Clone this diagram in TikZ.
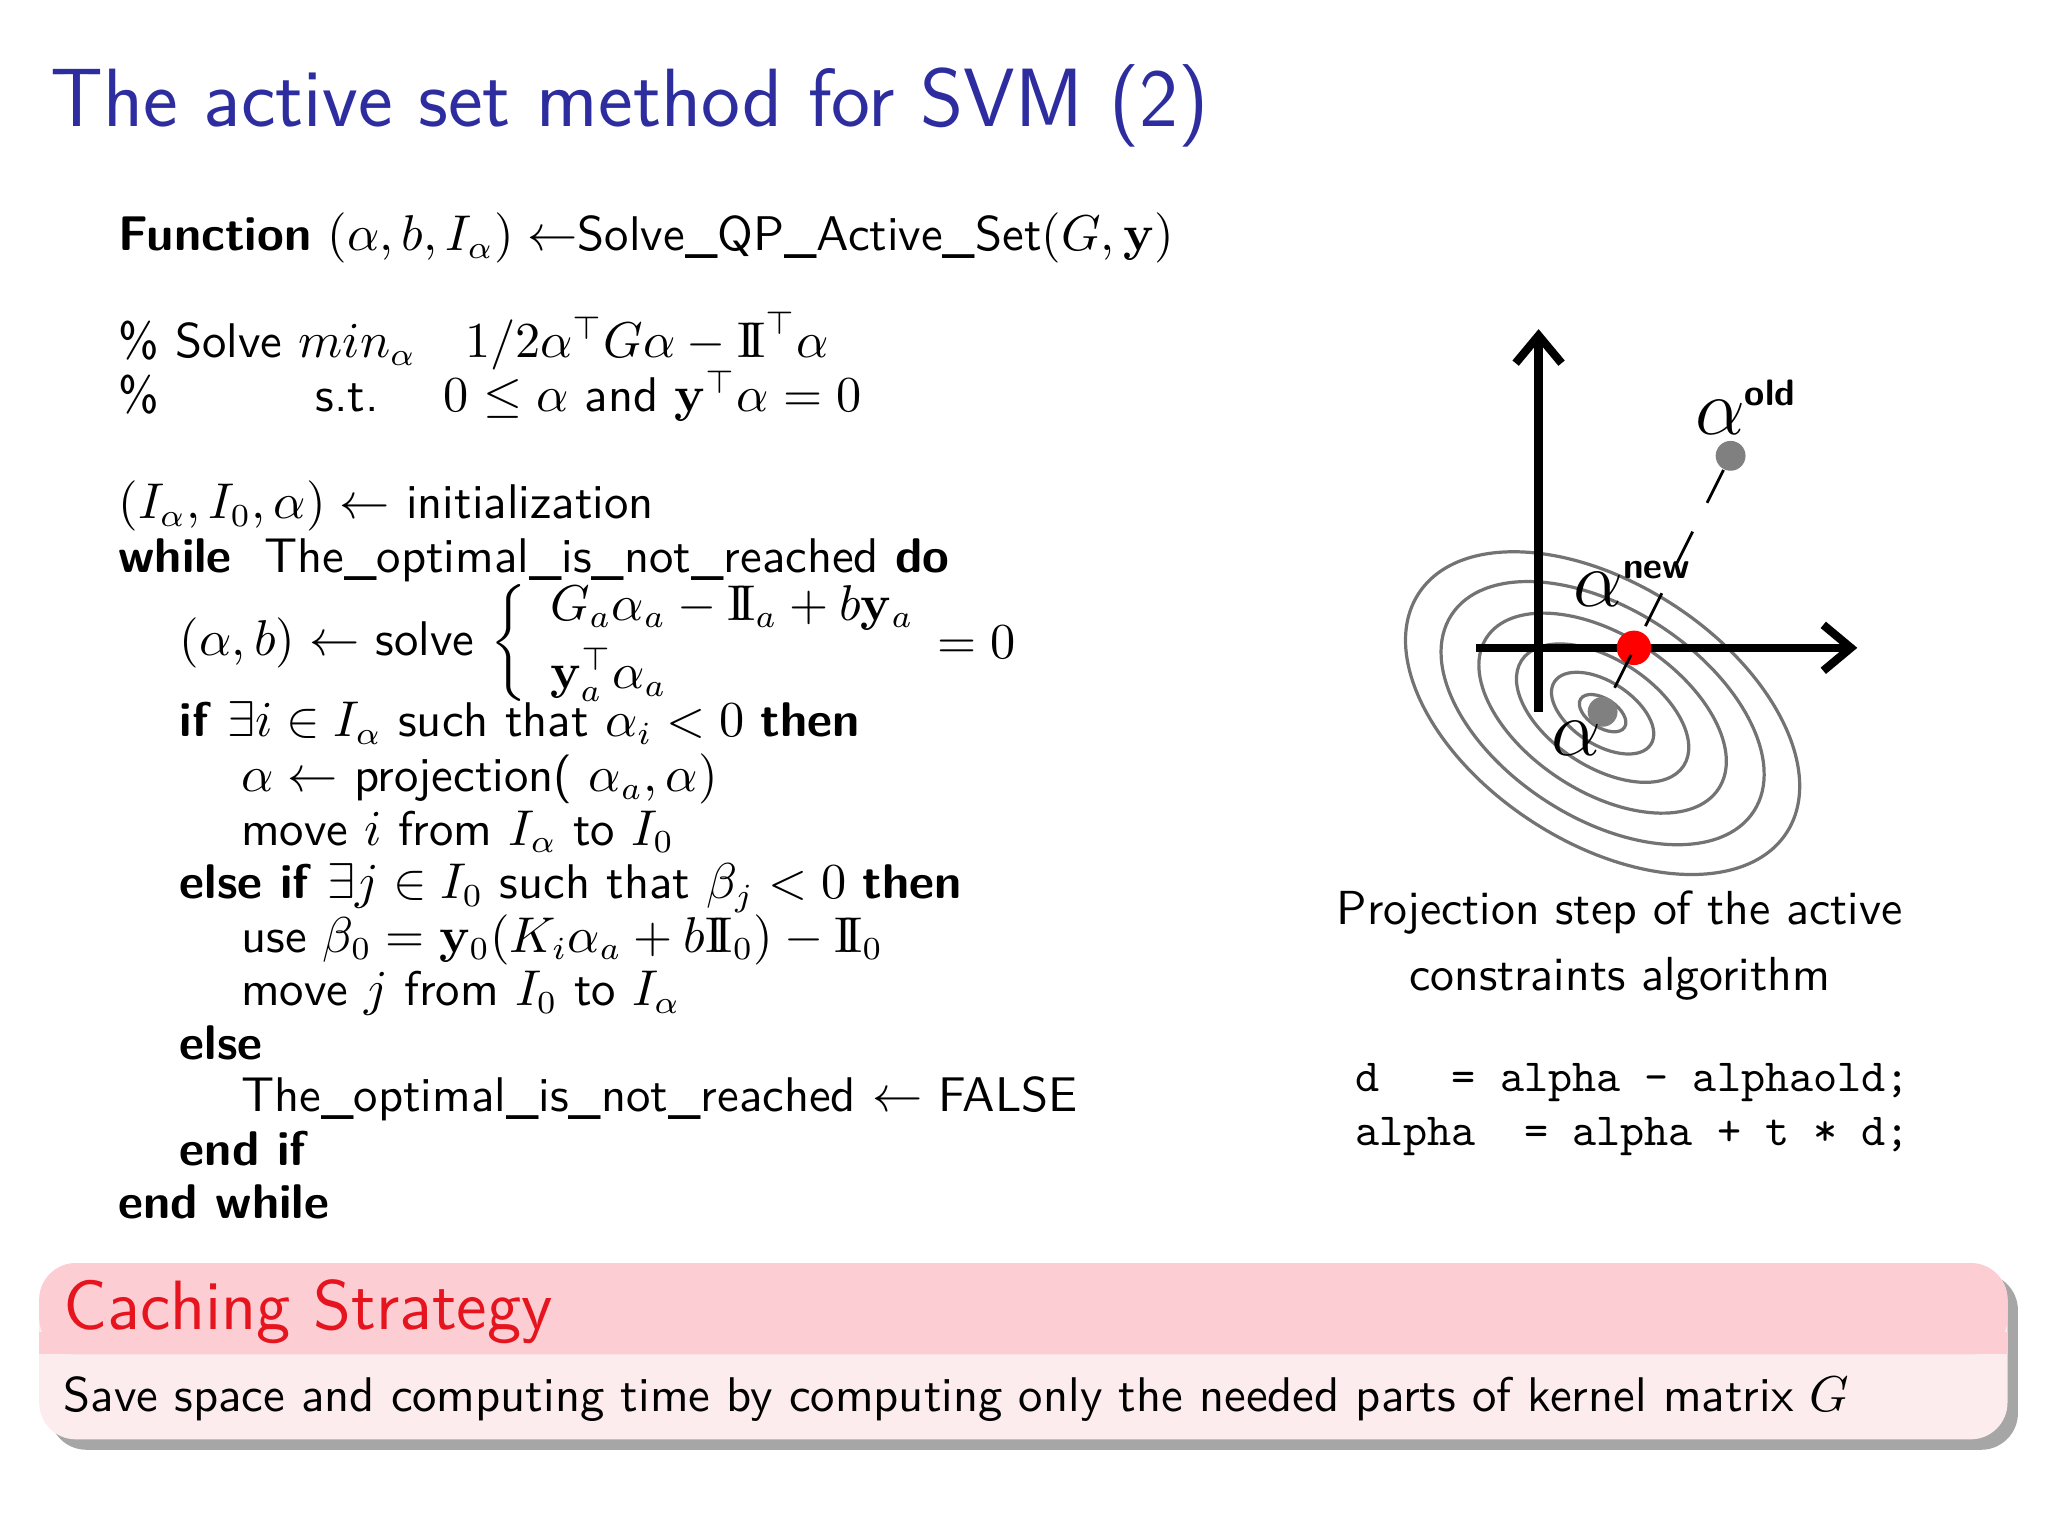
\documentclass[tikz,border=0pt]{standalone}
\usepackage{amsmath,amssymb}
\usetikzlibrary{arrows.meta}
\definecolor{titleblue}{RGB}{45,45,160}
\definecolor{blockhead}{RGB}{252,205,210}
\definecolor{blockbody}{RGB}{253,236,238}
\definecolor{blockred}{RGB}{230,20,30}
\tikzset{
  txt/.style={anchor=base west,inner sep=0pt,font=\sffamily\fontsize{10.6}{13}\selectfont},
  code/.style={anchor=base west,inner sep=0pt,font=\ttfamily\fontsize{10}{12}\selectfont},
  ring/.style={draw=black!55,line width=0.7pt},
  axis/.style={line width=1.8pt,-{Straight Barb[length=6pt,width=10pt]}},
  pt/.style={circle,fill=black!50,inner sep=0pt,minimum size=6.5pt},
  lab/.style={inner sep=0pt,font=\fontsize{16}{16}\selectfont}
}
\newcommand{\one}{\mathrm{I\!I}}
\newcommand{\suplab}[1]{\mbox{\fontsize{8}{8}\selectfont\sffamily\bfseries #1}}
\begin{document}
\begin{tikzpicture}[x=0.01cm,y=-0.01cm]
\useasboundingbox (0,0) rectangle (1568,1176);
\node[anchor=base west,inner sep=0pt,text=titleblue,font=\sffamily\fontsize{18}{22}\selectfont] (title) at (38,97) {The active set method for SVM (2)};
% algorithm
\node[txt] (l1) at (90,192) {\textbf{Function} $(\alpha,b,I_\alpha)\leftarrow$Solve\_QP\_Active\_Set$(G,\mathbf{y})$};
\node[txt] (l2) at (90,274) {\% Solve $min_\alpha$\quad $1/2\alpha^\top G\alpha-\one^\top\alpha$};
\node[txt] (l3) at (90,315) {\%};
\node[txt] (l3b) at (241,315) {s.t.\quad\ $0\le\alpha$ and $\mathbf{y}^\top\alpha=0$};
\node[txt] (l4) at (90,397) {$(I_\alpha,I_0,\alpha)\leftarrow$ initialization};
\node[txt] (l5) at (90,438) {\textbf{while}\ \ The\_optimal\_is\_not\_reached \textbf{do}};
\node[txt,anchor=west] (l6) at (137,492) {$(\alpha,b)\leftarrow$ solve $\left\{\begin{array}{l}G_a\alpha_a-\one_a+b\mathbf{y}_a\\[2pt] \mathbf{y}_a^\top\alpha_a\end{array}\right.$};
\node[txt,anchor=west] (l6b) at (717,492) {$=0$};
\node[txt] (l7) at (137,564) {\textbf{if} $\exists i\in I_\alpha$ such that $\alpha_i<0$ \textbf{then}};
\node[txt] (l8) at (184,606) {$\alpha\leftarrow$ projection( $\alpha_a,\alpha)$};
\node[txt] (l9) at (184,647) {move $i$ from $I_\alpha$ to $I_0$};
\node[txt] (l10) at (137,688) {\textbf{else if} $\exists j\in I_0$ such that $\beta_j<0$ \textbf{then}};
\node[txt] (l11) at (184,729) {use $\beta_0=\mathbf{y}_0(K_i\alpha_a+b\one_0)-\one_0$};
\node[txt] (l12) at (184,770) {move $j$ from $I_0$ to $I_\alpha$};
\node[txt] (l13) at (137,811) {\textbf{else}};
\node[txt] (l14) at (184,851) {The\_optimal\_is\_not\_reached $\leftarrow$ FALSE};
\node[txt] (l15) at (137,892) {\textbf{end if}};
\node[txt] (l16) at (90,933) {\textbf{end while}};
% figure
\begin{scope}[shift={(1227,546)},rotate=-33]
\foreach \a/\b in {20/11,44/24,74/41,106/60,138/80,168/99}{\draw[ring] (0,0) ellipse[x radius=\a,y radius=\b];}
\end{scope}
\coordinate (vb) at (1178,545);
\coordinate (vt) at (1178,252);
\coordinate (hl) at (1130,496);
\coordinate (hr) at (1422,496);
\draw[axis] (vb) -- (vt);
\draw[axis] (hl) -- (hr);
\node[pt] (old) at (1325,349) {};
\node[pt] (a) at (1227,545) {};
\node[circle,fill=red,inner sep=0pt,minimum size=7.5pt] (new) at (1251,496) {};
\draw[dashed,dash pattern=on 8pt off 7pt,line width=0.6pt] (old) -- (a);
\node[lab] (lold) at (1337,312) {$\alpha^{\suplab{old}}$};
\node[lab] (lnew) at (1250,447) {$\alpha^{\suplab{new}}$};
\node[lab] (la) at (1207,565) {$\alpha$};
\node[align=center,inner sep=0pt,font=\sffamily\fontsize{10.4}{14.5}\selectfont] (cap) at (1240,724) {Projection step of the active\\constraints algorithm};
\node[code] (c1) at (1037,836) {d\ \ \ = alpha - alphaold;};
\node[code] (c2) at (1037,877) {alpha\ \ = alpha + t * d;};
% block
\fill[black!35,rounded corners=8pt] (38,975) rectangle (1545,1110);
\fill[blockbody,rounded corners=8pt] (30,967) rectangle (1537,1102);
\fill[blockhead,rounded corners=8pt] (30,967) rectangle (1537,1037);
\fill[blockhead] (30,1020) rectangle (1537,1037);
\node[anchor=base west,inner sep=0pt,text=blockred,font=\sffamily\fontsize{15.2}{18}\selectfont] (bt) at (48,1018) {Caching Strategy};
\node[txt] (bb) at (48,1081) {Save space and computing time by computing only the needed parts of kernel matrix $G$};
\end{tikzpicture}
\end{document}
